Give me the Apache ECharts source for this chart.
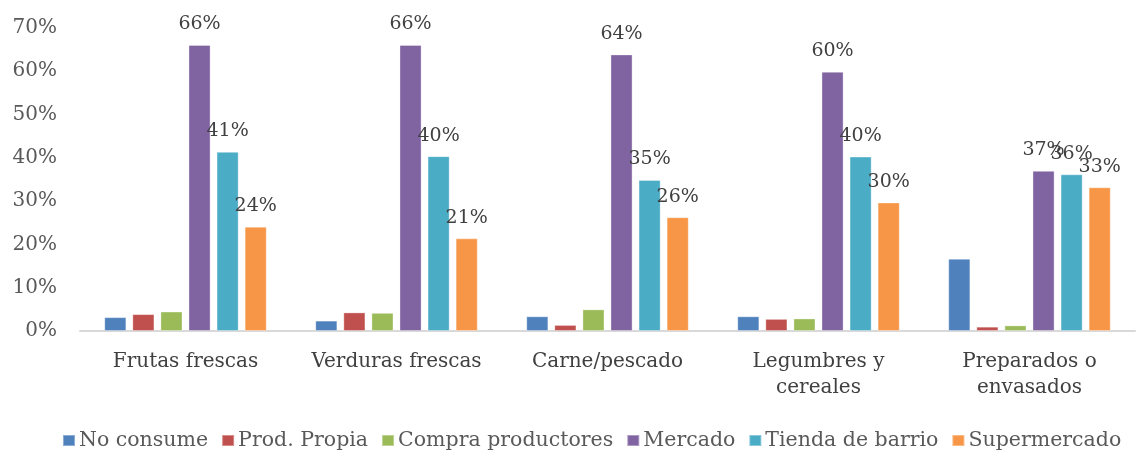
<!DOCTYPE html>
<html>
<head>
<meta charset="utf-8">
<script src="https://cdn.jsdelivr.net/npm/echarts@6/dist/echarts.min.js"></script>
<style>
  html, body { margin: 0; padding: 0; background: #fff; }
  #main { width: 1142px; height: 451px; }
</style>
</head>
<body>
<div id="main"></div>
<script>
// categorias del eje x
const categories = ['Frutas frescas', 'Verduras frescas', 'Carne/pescado', 'Legumbres y\ncereales', 'Preparados o\nenvasados']
// valores en %
const noConsume = [3.2, 2.4, 3.4, 3.4, 16.7]
const prodPropia = [3.9, 4.3, 1.4, 2.8, 1.0]
const compraProductores = [4.5, 4.2, 5.0, 2.9, 1.3]
const mercado = [66.1, 66.1, 63.9, 59.9, 37.0]
const tiendaBarrio = [41.4, 40.4, 34.9, 40.3, 36.2]
const supermercado = [24.1, 21.4, 26.3, 29.7, 33.2]
const yTicks = [0, 10, 20, 30, 40, 50, 60, 70]

const chart = echarts.init(document.getElementById('main'))
const font = 'Georgia, "DejaVu Serif", serif'

function mkSeries(name, data, color, showLabel) {
  return {
    name: name,
    type: 'bar',
    data: data,
    barGap: '27%',
    barCategoryGap: '23%',
    itemStyle: { color: color, borderColor: 'rgba(255,255,255,0.35)', borderWidth: 1 },
    label: {
      show: showLabel,
      position: 'top',
      distance: 11,
      color: '#404040',
      fontFamily: font,
      fontSize: 19,
      formatter: (p) => Math.round(p.value) + '%',
    },
  }
}

const option = {
  animation: false,
  textStyle: { fontFamily: font },
  grid: { left: 80, right: 7, top: 28, bottom: 120 },
  legend: {
    top: 425,
    left: 57,
    itemWidth: 12,
    itemHeight: 11,
    itemGap: 13,
    icon: 'rect',
    textStyle: { color: '#595959', fontSize: 20.5, fontFamily: font, padding: [0, 0, 0, -1] },
  },
  xAxis: {
    type: 'category',
    data: categories,
    axisLine: { lineStyle: { color: '#d9d9d9', width: 2 } },
    axisTick: { show: false },
    axisLabel: { interval: 0, color: '#404040', fontSize: 20, fontFamily: font, margin: 18, lineHeight: 26 },
  },
  yAxis: {
    type: 'value',
    min: yTicks[0],
    max: yTicks[yTicks.length - 1],
    interval: 10,
    splitLine: { show: false },
    axisLine: { show: false },
    axisTick: { show: false },
    axisLabel: { color: '#595959', fontSize: 20, fontFamily: font, margin: 23, formatter: '{value}%' },
  },
  series: [
    mkSeries('No consume', noConsume, '#4f81bd', false),
    mkSeries('Prod. Propia', prodPropia, '#c0504d', false),
    mkSeries('Compra productores', compraProductores, '#9bbb59', false),
    mkSeries('Mercado', mercado, '#8064a2', true),
    mkSeries('Tienda de barrio', tiendaBarrio, '#4bacc6', true),
    mkSeries('Supermercado', supermercado, '#f79646', true),
  ],
}
chart.setOption(option)
</script>
</body>
</html>
